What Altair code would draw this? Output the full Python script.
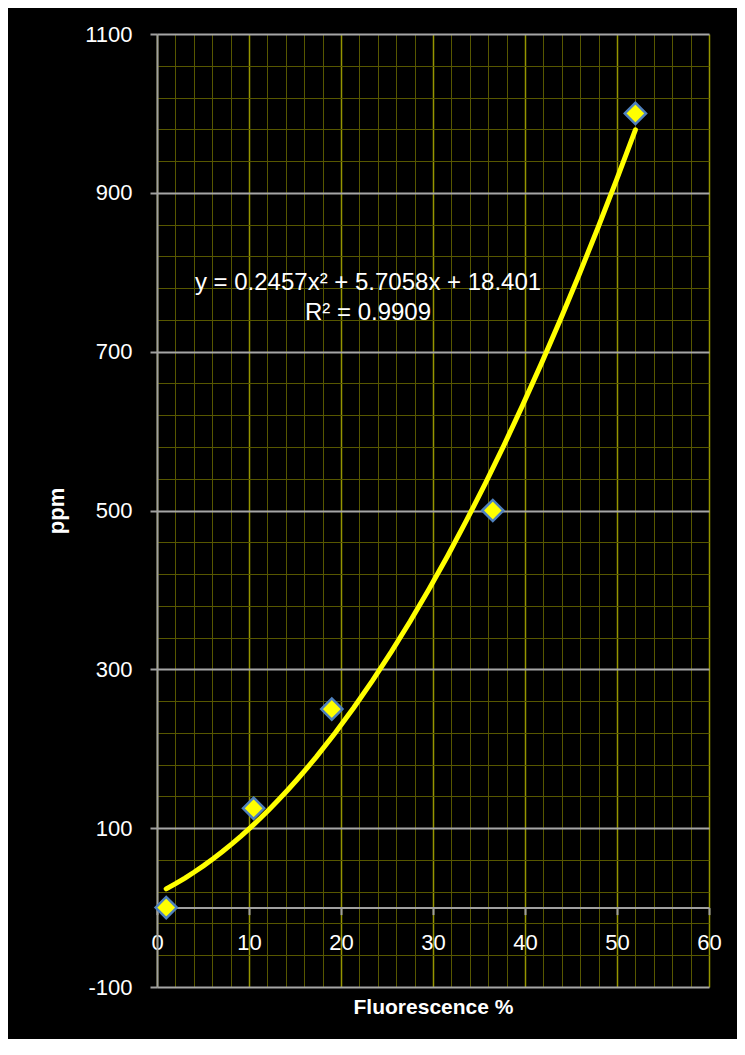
import altair as alt
import pandas as pd

# ---- data ----
fluorescence = [1.0, 10.5, 19.0, 36.5, 52.0]
ppm = [0, 125, 250, 500, 1000]
x_ticks = list(range(0, 61, 2))          # minor every 2, major every 10
y_ticks = list(range(-100, 1101, 40))    # minor every 40, major every 200
equation_lines = ["y = 0.2457x² + 5.7058x + 18.401", "R² = 0.9909"]
x_domain = [0, 60]
y_domain = [-100, 1100]

df = pd.DataFrame({"x": fluorescence, "y": ppm})

W, H = 552, 953
FONT = "Liberation Sans"
y0_px = H * (y_domain[1] - 0) / (y_domain[1] - y_domain[0])
x_axis_offset = y0_px - H   # move x axis up to y = 0

x_major = "datum.value % 10 === 0"
y_major = "(datum.value + 100) % 200 === 0"

x_axis = alt.Axis(
    values=x_ticks, tickCount=200,
    title="Fluorescence %",
    titleFont=FONT, titleFontSize=21, titleFontWeight="bold", titleColor="white",
    titleBaseline="top", titleY=89,
    offset=x_axis_offset,
    labelExpr=f"{x_major} ? '' + datum.value : ''",
    labelFont=FONT, labelFontSize=22, labelColor="white",
    labelPadding=18, labelFlush=False, labelOverlap=False,
    tickSize=7, tickWidth=2, tickColor="#a0a0a0",
    tickOpacity={"condition": {"test": x_major, "value": 1}, "value": 0},
    domainColor="#a0a0a0", domainWidth=2,
    grid=True,
    gridColor={"condition": {"test": x_major, "value": "#959500"}, "value": "#575700"},
    gridWidth={"condition": {"test": x_major, "value": 1.5}, "value": 1},
)

y_axis = alt.Axis(
    values=y_ticks, tickCount=200,
    title="ppm",
    titleFont=FONT, titleFontSize=22, titleFontWeight="bold", titleColor="white",
    titleAngle=270, titleBaseline="alphabetic", titleAlign="center",
    titleX=-94, titleY=H / 2,
    labelExpr=f"{y_major} ? '' + datum.value : ''",
    labelFont=FONT, labelFontSize=22, labelColor="white",
    labelPadding=18, labelFlush=False, labelOverlap=False,
    tickSize=7, tickWidth=2, tickColor="#a0a0a0",
    tickOpacity={"condition": {"test": y_major, "value": 1}, "value": 0},
    domainColor="#a0a0a0", domainWidth=2,
    grid=True,
    gridColor={"condition": {"test": y_major, "value": "#a6a6a6"}, "value": "#575700"},
    gridWidth={"condition": {"test": y_major, "value": 2}, "value": 1},
)

xs = alt.Scale(domain=x_domain, nice=False, zero=False)
ys = alt.Scale(domain=y_domain, nice=False, zero=False)

points = alt.Chart(df).mark_point(
    shape="diamond", filled=True, fill="#ffff00", stroke="#4f81bd",
    strokeWidth=2.5, size=450, opacity=1,
).encode(
    x=alt.X("x:Q", scale=xs, axis=x_axis),
    y=alt.Y("y:Q", scale=ys, axis=y_axis),
)

trend = alt.Chart(df).transform_regression(
    "x", "y", method="poly", order=2
).mark_line(color="#ffff00", strokeWidth=5, strokeCap="round").encode(
    x=alt.X("x:Q", scale=xs),
    y=alt.Y("y:Q", scale=ys),
)

eq_df = pd.DataFrame({"t": [equation_lines]})
equation = alt.Chart(eq_df).mark_text(
    font=FONT, fontSize=24, color="white", align="center", baseline="top",
    lineHeight=30,
).encode(
    text="t",
    x=alt.value(211),
    y=alt.value(237),
)

chart = alt.layer(points, trend, equation).properties(
    width=W, height=H,
    background="black",
    padding={"left": 149, "top": 26, "right": 28, "bottom": 52},
    autosize=alt.AutoSizeParams(type="none"),
).configure_view(stroke=None)

chart.save("out.html", embed_options={"renderer": "svg", "actions": False})
